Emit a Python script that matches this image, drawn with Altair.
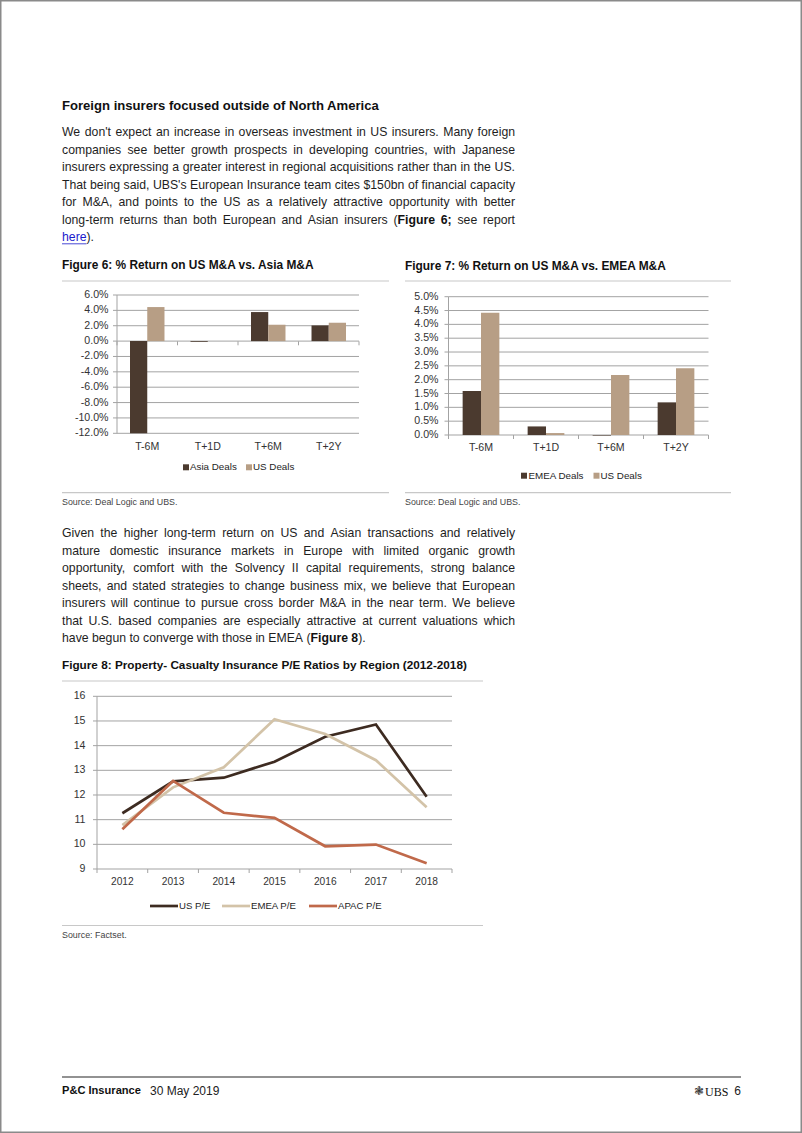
import altair as alt
import pandas as pd

# ---------------- data ----------------
fig6_categories = ["T-6M", "T+1D", "T+6M", "T+2Y"]
fig6_series = ["Asia Deals", "US Deals"]
fig6_asia = [-12.0, -0.1, 3.78, 2.04]
fig6_us = [4.43, 0.0, 2.13, 2.39]
fig6_ticks = [6, 4, 2, 0, -2, -4, -6, -8, -10, -12]
fig6_tick_labels = ["6.0%", "4.0%", "2.0%", "0.0%", "-2.0%", "-4.0%", "-6.0%", "-8.0%", "-10.0%", "-12.0%"]

fig7_categories = ["T-6M", "T+1D", "T+6M", "T+2Y"]
fig7_series = ["EMEA Deals", "US Deals"]
fig7_emea = [1.59, 0.31, -0.02, 1.18]
fig7_us = [4.42, 0.07, 2.17, 2.41]
fig7_ticks = [5.0, 4.5, 4.0, 3.5, 3.0, 2.5, 2.0, 1.5, 1.0, 0.5, 0.0]
fig7_tick_labels = ["5.0%", "4.5%", "4.0%", "3.5%", "3.0%", "2.5%", "2.0%", "1.5%", "1.0%", "0.5%", "0.0%"]

fig8_years = ["2012", "2013", "2014", "2015", "2016", "2017", "2018"]
fig8_series = ["US P/E", "EMEA P/E", "APAC P/E"]
fig8_us = [11.26, 12.55, 12.70, 13.35, 14.36, 14.86, 11.93]
fig8_emea = [10.78, 12.31, 13.12, 15.07, 14.47, 13.41, 11.50]
fig8_apac = [10.61, 12.57, 11.28, 11.07, 9.92, 9.99, 9.23]
fig8_ticks = [16, 15, 14, 13, 12, 11, 10, 9]
fig8_tick_labels = ["16", "15", "14", "13", "12", "11", "10", "9"]

# '*' toggles bold, '_' toggles link style
para1 = [
    "We don't expect an increase in overseas investment in US insurers. Many foreign",
    "companies see better growth prospects in developing countries, with Japanese",
    "insurers expressing a greater interest in regional acquisitions rather than in the US.",
    "That being said, UBS's European Insurance team cites $150bn of financial capacity",
    "for M&A, and points to the US as a relatively attractive opportunity with better",
    "long-term returns than both European and Asian insurers (*Figure 6;* see report",
    "_here_).",
]
para2 = [
    "Given the higher long-term return on US and Asian transactions and relatively",
    "mature domestic insurance markets in Europe with limited organic growth",
    "opportunity, comfort with the Solvency II capital requirements, strong balance",
    "sheets, and stated strategies to change business mix, we believe that European",
    "insurers will continue to pursue cross border M&A in the near term. We believe",
    "that U.S. based companies are especially attractive at current valuations which",
    "have begun to converge with those in EMEA (*Figure 8*).",
]

# ---------------- style ----------------
FONT = "Liberation Sans"
BODY = 12.25
INK = "#1e1e1e"
LINK = "#1a1acc"
GRID = "#a3a3a3"
DARK = "#4b3a2f"
TAN = "#b79e85"
ONE = pd.DataFrame({"a": [0]})

# Arial-compatible advance widths (1/1000 em) used for text justification
_REG = dict(zip(" !\"#$%&'()*+,-./:;<=>?", [278, 278, 355, 556, 556, 889, 667, 191, 333, 333, 389, 584, 278, 333, 278, 278, 278, 278, 584, 584, 584, 556]))
_REG.update({d: 556 for d in "0123456789"})
_REG.update(dict(zip("ABCDEFGHIJKLMNOPQRSTUVWXYZ", [667, 667, 722, 722, 667, 611, 778, 722, 278, 500, 667, 556, 833, 722, 778, 667, 778, 722, 667, 611, 722, 667, 944, 667, 667, 611])))
_REG.update(dict(zip("abcdefghijklmnopqrstuvwxyz", [556, 556, 500, 556, 556, 278, 556, 556, 222, 222, 500, 222, 833, 556, 556, 556, 556, 333, 500, 278, 556, 500, 722, 500, 500, 500])))
_BOLD = dict(zip(" !\"#$%&'()*+,-./:;<=>?", [278, 333, 474, 556, 556, 889, 722, 238, 333, 333, 389, 584, 278, 333, 278, 278, 333, 333, 584, 584, 584, 611]))
_BOLD.update({d: 556 for d in "0123456789"})
_BOLD.update(dict(zip("ABCDEFGHIJKLMNOPQRSTUVWXYZ", [722, 722, 722, 722, 667, 611, 778, 722, 278, 556, 722, 611, 833, 722, 778, 667, 778, 722, 667, 611, 722, 667, 944, 667, 667, 611])))
_BOLD.update(dict(zip("abcdefghijklmnopqrstuvwxyz", [556, 611, 556, 611, 556, 333, 611, 611, 278, 278, 556, 278, 889, 611, 611, 611, 611, 389, 556, 333, 611, 556, 778, 556, 556, 500])))


def cw(c, st):
    t = _BOLD if st == "b" else _REG
    return t.get(c, 556) / 1000.0


def layout_paragraph(lines, x0, x1, y0, lh, size):
    rows = []
    for li, line in enumerate(lines):
        last = li == len(lines) - 1
        chars, style = [], "n"
        for c in line:
            if c == "*":
                style = "n" if style == "b" else "b"
                continue
            if c == "_":
                style = "n" if style == "l" else "l"
                continue
            chars.append((c, style))
        words, cur = [], []
        for c, st in chars:
            if c == " ":
                if cur:
                    words.append(cur)
                    cur = []
            else:
                cur.append((c, st))
        if cur:
            words.append(cur)
        widths = [sum(cw(c, st) for c, st in w) * size for w in words]
        if last or len(words) < 2:
            gap = cw(" ", "n") * size
        else:
            gap = max(2.0, (x1 - x0 - sum(widths)) / (len(words) - 1))
        x = x0
        y = y0 + lh * li
        for w, wd in zip(words, widths):
            runs = []
            for c, st in w:
                if runs and runs[-1][1] == st:
                    runs[-1][0] += c
                else:
                    runs.append([c, st])
            rx = x
            for text, st in runs:
                rw = sum(cw(c, st) for c in text) * size
                rows.append({"t": text, "x": rx, "x2": rx + rw, "y": y, "yu": y + 6.8, "s": st})
                rx += rw
            x += wd + gap
    return pd.DataFrame(rows)


def para_layers(df, size):
    out = []
    for st, weight, color in [("n", "normal", INK), ("b", "bold", "#111"), ("l", "normal", LINK)]:
        sub = df[df.s == st]
        if len(sub) == 0:
            continue
        out.append(alt.Chart(sub).mark_text(
            align="left", baseline="middle", font=FONT, fontSize=size, fontWeight=weight, color=color
        ).encode(x=alt.X("x:Q", scale=None), y=alt.Y("y:Q", scale=None), text="t:N"))
    link = df[df.s == "l"]
    if len(link):
        out.append(alt.Chart(link).mark_rule(color=LINK, strokeWidth=0.8).encode(
            x=alt.X("x:Q", scale=None), x2="x2:Q", y=alt.Y("yu:Q", scale=None)))
    return out


def txt(s, x, y, size=BODY, weight="normal", color=INK, align="left", font=FONT):
    return alt.Chart(ONE).mark_text(
        text=s, fontSize=size, fontWeight=weight, color=color, align=align,
        baseline="middle", font=font
    ).encode(x=alt.value(x), y=alt.value(y))


def hline(x1, x2, y, color=GRID, w=1.0):
    return alt.Chart(ONE).mark_rule(color=color, strokeWidth=w).encode(
        x=alt.value(x1), x2=alt.value(x2), y=alt.value(y))


def vline(x, y1, y2, color=GRID, w=1.0):
    return alt.Chart(ONE).mark_rule(color=color, strokeWidth=w).encode(
        x=alt.value(x), y=alt.value(y1), y2=alt.value(y2))


def square(x, y, color, s=6):
    return alt.Chart(ONE).mark_rect(color=color).encode(
        x=alt.value(x), x2=alt.value(x + s), y=alt.value(y - s / 2), y2=alt.value(y + s / 2))


AX = 10.6


def bar_figure(cats, series, v1, v2, ticks, labels, xr, yr, ydom, lbl_x, cat_y, pin, zero_y):
    df = pd.DataFrame({"cat": cats * 2, "series": [series[0]] * 4 + [series[1]] * 4, "val": v1 + v2})
    tk = pd.DataFrame({"v": ticks, "lbl": labels})
    cdf = pd.DataFrame({"cat": cats})
    xs = alt.Scale(domain=cats, range=xr, paddingInner=pin, paddingOuter=pin / 2)
    ys = alt.Scale(domain=ydom, range=yr, nice=False, zero=False)
    grid = alt.Chart(tk).mark_rule(color=GRID, strokeWidth=1).encode(
        y=alt.Y("v:Q", scale=ys, axis=None), x=alt.value(xr[0]), x2=alt.value(xr[1]))
    yticks = alt.Chart(tk).mark_rule(color=GRID, strokeWidth=1).encode(
        y=alt.Y("v:Q", scale=ys, axis=None), x=alt.value(xr[0] - 4), x2=alt.value(xr[0]))
    ylab = alt.Chart(tk).mark_text(align="right", baseline="middle", fontSize=AX, font=FONT, color="#333").encode(
        y=alt.Y("v:Q", scale=ys, axis=None), x=alt.value(lbl_x), text="lbl:N")
    bars = alt.Chart(df).mark_bar().encode(
        x=alt.X("cat:N", scale=xs, axis=None, sort=cats),
        xOffset=alt.XOffset("series:N", sort=series, scale=alt.Scale(domain=series)),
        y=alt.Y("val:Q", scale=ys, axis=None),
        color=alt.Color("series:N", scale=alt.Scale(domain=series, range=[DARK, TAN]), legend=None),
    )
    clab = alt.Chart(cdf).mark_text(baseline="middle", fontSize=AX, font=FONT, color="#333").encode(
        x=alt.X("cat:N", scale=xs, axis=None, sort=cats), y=alt.value(cat_y), text="cat:N")
    step = (xr[1] - xr[0]) / len(cats)
    xt = [vline(xr[0] + step * k, zero_y, zero_y + 4) for k in range(len(cats) + 1)]
    return alt.layer(grid, yticks, vline(xr[0], yr[1], yr[0]), *xt, bars, ylab, clab)


layers = []

# page border
layers.append(alt.Chart(ONE).mark_rect(fillOpacity=0, stroke="#8a8a8a", strokeWidth=1.5).encode(
    x=alt.value(0.75), x2=alt.value(801.25), y=alt.value(0.75), y2=alt.value(1132.25)))

# heading and paragraph 1
layers.append(txt("Foreign insurers focused outside of North America", 62, 105.5, size=13.1, weight="bold", color="#111"))
LH = 17.45
layers += para_layers(layout_paragraph(para1, 62, 515, 132.3, LH, BODY), BODY)

# figure titles
TT = 11.9
layers.append(txt("Figure 6: % Return on US M&A vs. Asia M&A", 62, 265, size=TT, weight="bold", color="#111"))
layers.append(txt("Figure 7: % Return on US M&A vs. EMEA M&A", 405, 265.5, size=TT, weight="bold", color="#111"))
layers.append(hline(62, 389, 281, color="#c8c8c8", w=1.2))
layers.append(hline(405, 731, 281, color="#c8c8c8", w=1.2))

# figure 6
layers.append(bar_figure(fig6_categories, fig6_series, fig6_asia, fig6_us, fig6_ticks, fig6_tick_labels,
                         [117, 359], [433.3, 295], [-12, 6], 108.5, 447, 0.43, 341.3))
layers.append(square(183, 467.3, DARK))
layers.append(txt("Asia Deals", 190, 467.3, size=9.8))
layers.append(square(246, 467.3, TAN))
layers.append(txt("US Deals", 253, 467.3, size=9.8))

# figure 7
layers.append(bar_figure(fig7_categories, fig7_series, fig7_emea, fig7_us, fig7_ticks, fig7_tick_labels,
                         [448.5, 708.5], [435, 296.7], [0, 5], 438.5, 448, 0.435, 435))
layers.append(square(521, 475.7, DARK))
layers.append(txt("EMEA Deals", 528.5, 475.7, size=9.8))
layers.append(square(593.5, 475.7, TAN))
layers.append(txt("US Deals", 600.5, 475.7, size=9.8))

# sources
layers.append(hline(62, 389, 492.7, color="#c8c8c8", w=1.2))
layers.append(hline(405, 731, 492.7, color="#c8c8c8", w=1.2))
layers.append(txt("Source:  Deal Logic and UBS.", 62, 501.7, size=8.9, color="#444"))
layers.append(txt("Source:  Deal Logic and UBS.", 405, 502, size=8.9, color="#444"))

# paragraph 2
layers += para_layers(layout_paragraph(para2, 62, 515, 533.3, LH, BODY), BODY)

# figure 8
layers.append(txt("Figure 8: Property- Casualty Insurance P/E Ratios by Region (2012-2018)", 62, 664.5, size=11.75, weight="bold", color="#111"))
layers.append(hline(62, 483, 681, color="#c8c8c8", w=1.2))

df8 = pd.DataFrame({
    "year": fig8_years * 3,
    "series": [fig8_series[0]] * 7 + [fig8_series[1]] * 7 + [fig8_series[2]] * 7,
    "val": fig8_us + fig8_emea + fig8_apac,
})
tk8 = pd.DataFrame({"v": fig8_ticks, "lbl": fig8_tick_labels})
yr8 = pd.DataFrame({"year": fig8_years})
X8 = [97, 452]
xs8 = alt.Scale(type="point", domain=fig8_years, range=X8, padding=0.5)
ys8 = alt.Scale(domain=[9, 16], range=[869, 696.3], nice=False, zero=False)
C8 = ["#3d2b21", "#d3c3a8", "#c0694a"]
grid8 = alt.Chart(tk8).mark_rule(color=GRID, strokeWidth=1).encode(
    y=alt.Y("v:Q", scale=ys8, axis=None), x=alt.value(X8[0]), x2=alt.value(X8[1]))
ytick8 = alt.Chart(tk8).mark_rule(color=GRID, strokeWidth=1).encode(
    y=alt.Y("v:Q", scale=ys8, axis=None), x=alt.value(X8[0] - 4), x2=alt.value(X8[0]))
ylab8 = alt.Chart(tk8).mark_text(align="right", baseline="middle", fontSize=10.6, font=FONT, color="#333").encode(
    y=alt.Y("v:Q", scale=ys8, axis=None), x=alt.value(85.5), text="lbl:N")
lines8 = alt.Chart(df8).mark_line(strokeWidth=2.7, strokeJoin="miter").encode(
    x=alt.X("year:N", scale=xs8, axis=None, sort=fig8_years),
    y=alt.Y("val:Q", scale=ys8, axis=None),
    color=alt.Color("series:N", scale=alt.Scale(domain=fig8_series, range=C8), legend=None),
)
xlab8 = alt.Chart(yr8).mark_text(baseline="middle", fontSize=10.2, font=FONT, color="#333").encode(
    x=alt.X("year:N", scale=xs8, axis=None, sort=fig8_years), y=alt.value(882), text="year:N")
step8 = (X8[1] - X8[0]) / 7
xt8 = [vline(X8[0] + step8 * k, 869, 873) for k in range(8)]
layers.append(alt.layer(grid8, ytick8, vline(X8[0], 696.3, 869), *xt8, lines8, ylab8, xlab8))

# figure 8 legend
for (x1, x2, tx, name, col) in [(150, 178, 179, "US P/E", C8[0]), (222, 250, 251, "EMEA P/E", C8[1]), (309, 337, 338, "APAC P/E", C8[2])]:
    layers.append(hline(x1, x2, 906, color=col, w=2.7))
    layers.append(txt(name, tx, 906, size=9.6))
layers.append(hline(62, 483, 925.5, color="#c8c8c8", w=1.2))
layers.append(txt("Source:  Factset.", 62, 934.5, size=8.9, color="#444"))

# footer
layers.append(hline(62, 741, 1077, color="#6e6e6e", w=1.5))
layers.append(txt("P&C Insurance", 62, 1091, size=11.1, weight="bold", color="#111"))
layers.append(txt("30 May 2019", 150, 1091, size=12, color="#222"))
layers.append(txt("\u2743", 699, 1091, size=12, color="#333", align="center", font="DejaVu Sans"))
layers.append(txt("UBS", 705, 1091.5, size=12, color="#111", font="Liberation Serif"))
layers.append(txt("6", 741, 1091, size=12, color="#222", align="right"))

chart = alt.layer(*layers).resolve_scale(
    x="independent", y="independent", color="independent", xOffset="independent"
).properties(
    width=802, height=1133, padding=0, autosize="none", background="white"
).configure_view(stroke=None)

chart.save("out.html", embed_options={"renderer": "svg", "actions": False})
